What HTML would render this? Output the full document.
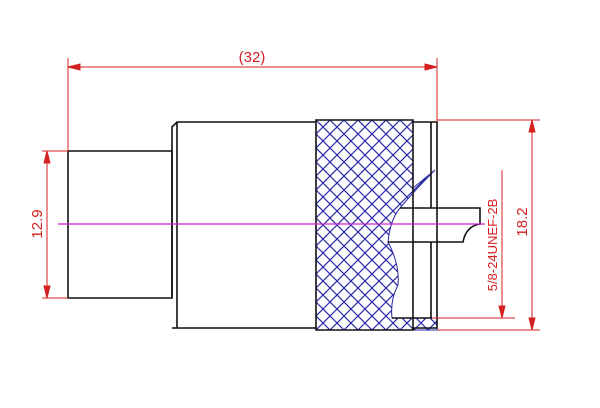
<html><body style="margin:0;background:#fff">
<svg width="600" height="408" viewBox="0 0 600 408" xmlns="http://www.w3.org/2000/svg">
<defs>
<pattern id="h" width="14" height="14" patternUnits="userSpaceOnUse" x="316" y="120">
<path d="M0,0L14,14M14,0L0,14" stroke="#2a2aa8" stroke-width="1.2"/>
</pattern>
</defs>
<path d="M316,120H413V188L435,170Q415,190 400,208Q390,220 388,242Q400,265 398,285Q390,300 392,318H437V330H316Z" fill="url(#h)" stroke="#2a2aa8" stroke-width="1"/>
<g fill="none" stroke="#111" stroke-width="1.6">
<path d="M68,151H172V298H68Z"/>
<path d="M172,298V127L177,122H316M172,328H316M177,122V328"/>
<path d="M316,120H413V122H437V328H413V330H316Z"/>
<path d="M413,122V330"/>
<path d="M431,122V208M431,242V318"/>
<path d="M400,208H480V224Q466,226 463,242H388"/>
<path d="M392,318H432"/>
</g>
<line x1="58" y1="224" x2="485" y2="224" stroke="#d020d0" stroke-width="1.2"/>
<g stroke="#d42020" stroke-width="1" fill="#d42020">
<line x1="68" y1="58" x2="68" y2="151"/>
<line x1="437" y1="58" x2="437" y2="122"/>
<line x1="68" y1="67" x2="437" y2="67"/>
<path d="M68,67l12,-3v6zM437,67l-12,-3v6z"/>
<line x1="42" y1="151" x2="68" y2="151"/>
<line x1="42" y1="298" x2="68" y2="298"/>
<line x1="47" y1="151" x2="47" y2="298"/>
<path d="M47,151l-3,12h6zM47,298l-3,-12h6z"/>
<line x1="437" y1="120" x2="540" y2="120"/>
<line x1="437" y1="330" x2="540" y2="330"/>
<line x1="532" y1="120" x2="532" y2="330"/>
<path d="M532,120l-3,12h6zM532,330l-3,-12h6z"/>
<line x1="432" y1="318" x2="515" y2="318"/>
<line x1="502" y1="170" x2="502" y2="318"/>
<path d="M502,318l-3,-12h6z"/>
</g>
<g fill="#d42020" font-family="Liberation Sans, sans-serif" font-size="15">
<text x="252" y="62" text-anchor="middle">(32)</text>
<text transform="translate(42,224) rotate(-90)" text-anchor="middle">12.9</text>
<text transform="translate(527,222) rotate(-90)" text-anchor="middle">18.2</text>
<text transform="translate(497,245) rotate(-90)" text-anchor="middle" font-size="13">5/8-24UNEF-2B</text>
</g>
</svg>
</body></html>
